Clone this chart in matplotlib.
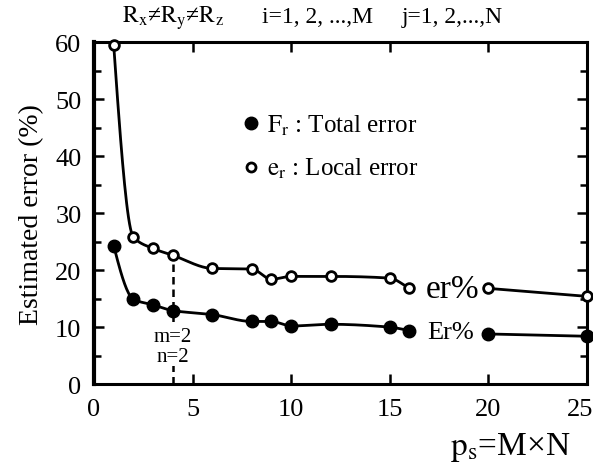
import matplotlib
matplotlib.use('Agg')
import matplotlib.pyplot as plt
import matplotlib.transforms as mtransforms
import numpy as np

plt.rcParams['font.family'] = ['Liberation Serif', 'DejaVu Serif']
plt.rcParams['mathtext.fontset'] = 'stix'

# data
x_pts = np.array([1, 2, 3, 4, 6, 8, 9, 10, 12, 15, 16, 20, 25])
er_pts = np.array([59.5, 25.8, 23.8, 22.6, 20.3, 20.2, 18.4, 18.9, 18.9, 18.6, 16.8, 16.8, 15.4])
Er_pts = np.array([24.3, 14.9, 13.9, 12.9, 12.2, 11.0, 11.0, 10.2, 10.5, 10.0, 9.4, 8.8, 8.4])
xticks = [0, 5, 10, 15, 20, 25]
yticks = [0, 10, 20, 30, 40, 50, 60]


def pchip(x, y, xn):
    # monotone cubic interpolation, so the curve looks hand-smoothed
    h = np.diff(x)
    d = np.diff(y) / h
    m = np.zeros_like(y, dtype=float)
    for k in range(1, len(x) - 1):
        if d[k - 1] * d[k] > 0:
            w1 = 2 * h[k] + h[k - 1]
            w2 = h[k] + 2 * h[k - 1]
            m[k] = (w1 + w2) / (w1 / d[k - 1] + w2 / d[k])
    m[0] = d[0]
    m[-1] = d[-1]
    if len(x) > 2:
        m[0] = ((2 * h[0] + h[1]) * d[0] - h[0] * d[1]) / (h[0] + h[1])
        if np.sign(m[0]) != np.sign(d[0]):
            m[0] = 0
    out = np.empty_like(xn)
    for i, xv in enumerate(xn):
        k = min(np.searchsorted(x, xv, side='right') - 1, len(x) - 2)
        t = (xv - x[k]) / h[k]
        h00 = 2 * t**3 - 3 * t**2 + 1
        h10 = t**3 - 2 * t**2 + t
        h01 = -2 * t**3 + 3 * t**2
        h11 = t**3 - t**2
        out[i] = h00 * y[k] + h10 * h[k] * m[k] + h01 * y[k + 1] + h11 * h[k] * m[k + 1]
    return out


fig = plt.figure(figsize=(5.93, 4.64), dpi=100)
ax = fig.add_axes([0.1585, 0.170, 0.831, 0.737])

# the line breaks between 16 and 20 where the curve labels sit
for y in (er_pts, Er_pts):
    for lo, hi in ((1, 16), (20, 25)):
        sel = (x_pts >= lo) & (x_pts <= hi)
        xs, ys = x_pts[sel].astype(float), y[sel]
        xn = np.linspace(xs[0], xs[-1], 300)
        ax.plot(xn, pchip(xs, ys, xn), color='black', lw=2, zorder=2)

ax.plot(x_pts, er_pts, 'o', ms=7, mfc='white', mec='black', mew=2, zorder=3, clip_on=False)
ax.plot(x_pts, Er_pts, 'o', ms=9, mfc='black', mec='black', zorder=3, clip_on=False)

# m=2, n=2 marker line
ax.plot([4, 4], [0, er_pts[3]], color='black', ls=(0, (3, 2)), lw=1.8, zorder=1)
for txt, yy in (('m=2', 8.4), ('n=2', 4.9)):
    ax.text(4.0, yy, txt, ha='center', va='center', fontsize=15, zorder=4,
            bbox=dict(facecolor='white', edgecolor='none', pad=0.5))

ax.text(16.85, 16.7, 'er%', ha='left', va='center', fontsize=24)
ax.text(16.9, 9.2, 'Er%', ha='left', va='center', fontsize=19)

# in-plot legend
ax.plot([7.95], [45.8], 'o', ms=9, color='black')
ax.plot([7.95], [38.1], 'o', ms=6.5, mfc='white', mec='black', mew=2)
ax.text(8.8, 45.6, r'$\mathrm{F_r}$ : Total error', ha='left', va='center', fontsize=18)
ax.text(8.8, 37.9, r'$\mathrm{e_r}$ : Local error', ha='left', va='center', fontsize=18)

ax.set_xlim(0, 25)
ax.set_ylim(0, 60)
ax.set_xticks(xticks)
ax.set_yticks(yticks)
ax.set_yticks(np.arange(5, 60, 10), minor=True)
ax.tick_params(axis='both', which='both', direction='in', top=True, right=True,
               labelsize=19, width=1.8)
ax.tick_params(axis='both', which='major', length=7)
ax.tick_params(axis='both', which='minor', length=5)
ax.tick_params(axis='x', pad=10)
ax.tick_params(axis='y', pad=9)
for s in ax.spines.values():
    s.set_linewidth(2.2)
ax.spines['left'].set_linewidth(3)

# pull the "25" label a little inside the figure
last = ax.xaxis.get_major_ticks()[-1].label1
last.set_transform(last.get_transform() + mtransforms.ScaledTranslation(-7 / 100, 0, fig.dpi_scale_trans))

ax.set_ylabel('Estimated error (%)', fontsize=20, labelpad=8)
fig.text(0.86, 0.035, r'$\mathrm{p_s}$=M×N', ha='center', va='center', fontsize=24)
fig.text(0.206, 0.962, r'$\mathrm{R_x}$≠$\mathrm{R_y}$≠$\mathrm{R_z}$', ha='left', va='center', fontsize=17)
fig.text(0.442, 0.962, 'i=1, 2, ...,M', ha='left', va='center', fontsize=17)
fig.text(0.678, 0.962, 'j=1, 2,...,N', ha='left', va='center', fontsize=17)

fig.savefig('out.png', dpi=100)
